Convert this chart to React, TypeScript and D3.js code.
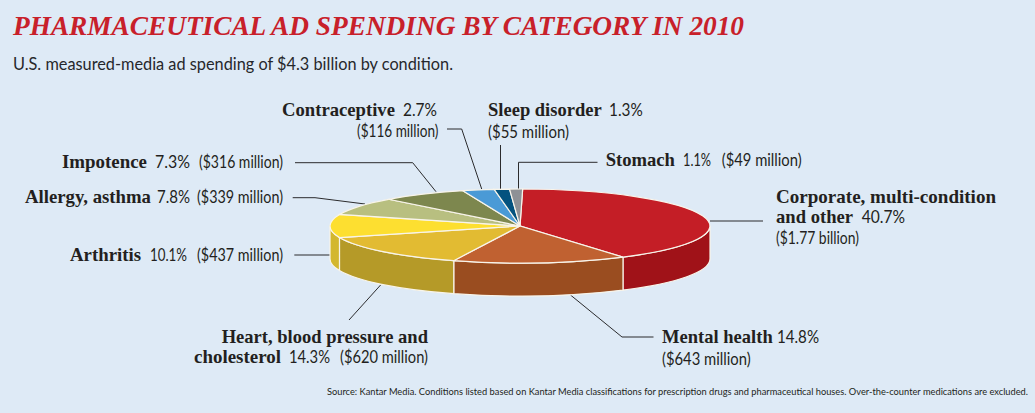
import React from "react";
import * as d3 from "d3";

const categories = ["Corporate, multi-condition and other", "Mental health", "Heart, blood pressure and cholesterol", "Arthritis", "Allergy, asthma", "Impotence", "Contraceptive", "Sleep disorder", "Stomach"];
const shares = [40.7, 14.8, 14.3, 10.1, 7.8, 7.3, 2.7, 1.3, 1.1];
const topColors = ["#c41e26", "#c06131", "#e2bb32", "#fddf30", "#b8bf80", "#7d874e", "#4a9ad6", "#03527f", "#8e9196"];
const sideColors = ["#a01218", "#9a4d20", "#b59a28", "#d3b72e", "#b8bf80", "#7d874e", "#4a9ad6", "#03527f", "#8e9196"];

const title = "PHARMACEUTICAL AD SPENDING BY CATEGORY IN 2010";
const subtitle = "U.S. measured-media ad spending of $4.3 billion by condition.";
const source = "Source: Kantar Media. Conditions listed based on Kantar Media classifications for prescription drugs and pharmaceutical houses. Over-the-counter medications are excluded.";

// x0, x1, baseline, text
type Piece = [number, number, number, string];
const boldPieces: Piece[] = [
  [282, 395, 116, "Contraceptive"],
  [488, 601.7, 116, "Sleep disorder"],
  [605.7, 675, 166, "Stomach"],
  [62, 147, 168, "Impotence"],
  [25, 151, 203, "Allergy, asthma"],
  [70, 141, 261, "Arthritis"],
  [776, 996, 203, "Corporate, multi-condition"],
  [776, 853, 223, "and other"],
  [221.7, 428, 343, "Heart, blood pressure and"],
  [194, 281, 363, "cholesterol"],
  [662, 772.7, 343, "Mental health"],
];
const lightPieces: Piece[] = [
  [403, 437, 116, "2.7%"],
  [357, 438.5, 137, "($116 million)"],
  [609, 642.7, 116, "1.3%"],
  [488, 569, 137.5, "($55 million)"],
  [683, 711, 166, "1.1%"],
  [721.7, 801.7, 166, "($49 million)"],
  [155, 190, 168, "7.3%"],
  [199, 283, 168, "($316 million)"],
  [157, 190, 203, "7.8%"],
  [197, 283, 203, "($339 million)"],
  [150, 187, 261, "10.1%"],
  [197, 283, 261, "($437 million)"],
  [861.7, 905, 223, "40.7%"],
  [776, 859, 244, "($1.77 billion)"],
  [289, 330, 363, "14.3%"],
  [340, 428, 363, "($620 million)"],
  [777, 819, 343, "14.8%"],
  [662, 750.7, 365, "($643 million)"],
];

const leaders: [number, number][][] = [
  [[710, 221], [763, 221]],
  [[570.5, 295], [622, 337], [653.5, 337]],
  [[380.6, 285], [349, 320]],
  [[294.3, 255], [330, 255]],
  [[292.7, 197.7], [315, 197.7], [365, 204]],
  [[295, 162.7], [412.7, 162.7], [436, 191.7]],
  [[447, 129], [461.7, 129], [481.7, 189]],
  [[500.5, 145], [500.5, 189]],
  [[597.5, 162.3], [518.5, 162.3], [518.5, 189]],
];

const W = 1035, H = 413;
const cx = 520, cy = 226, rx = 190, ry = 37, depth = 33;
const edge = "#f8f4ea";
const ink = "#231f20";

export default function App() {
  const pie = d3.pie<number>().sort(null).startAngle(0.014).endAngle(0.014 + 2 * Math.PI);
  const slices = pie(shares);
  const arc = d3.arc<d3.PieArcDatum<number>>().innerRadius(0).outerRadius(1);
  const px = (a: number) => cx + rx * Math.sin(a);
  const py = (a: number) => cy - ry * Math.cos(a);
  const line = d3.line();

  const walls = slices.map((s, i) => {
    const a0 = Math.max(s.startAngle, Math.PI / 2);
    const a1 = Math.min(s.endAngle, (3 * Math.PI) / 2);
    if (a1 <= a0) return null;
    const d = `M${px(a0)},${py(a0)}A${rx},${ry} 0 0 1 ${px(a1)},${py(a1)}L${px(a1)},${py(a1) + depth}A${rx},${ry} 0 0 0 ${px(a0)},${py(a0) + depth}Z`;
    return <path key={i} d={d} fill={sideColors[i]} stroke={edge} strokeWidth={1.2} />;
  });

  return (
    <svg width={W} height={H} viewBox={`0 0 ${W} ${H}`} style={{ position: "absolute", left: 0, top: 0, display: "block" }}>
      <rect width={W} height={H} fill="#deeaf6" />
      <text x={13} y={35} fontFamily="'Liberation Serif', serif" fontWeight={700} fontStyle="italic" fontSize={27} fill="#c8202a" textLength={731} lengthAdjust="spacingAndGlyphs">{title}</text>
      <text x={13} y={70} fontFamily="Lato, sans-serif" fontSize={18} fill="#26272b" textLength={440} lengthAdjust="spacingAndGlyphs">{subtitle}</text>

      {leaders.map((l, i) => (
        <path key={i} d={line(l) ?? ""} fill="none" stroke="#2b2b2d" strokeWidth={1} />
      ))}

      {walls}
      <g transform={`translate(${cx},${cy}) scale(${rx},${ry})`}>
        {slices.map((s, i) => (
          <path key={categories[i]} d={arc(s) ?? ""} fill={topColors[i]} stroke={edge} strokeWidth={1.2} vectorEffect="non-scaling-stroke" />
        ))}
      </g>

      {boldPieces.map(([x0, x1, y, t]) => (
        <text key={t} x={x0} y={y} fill={ink} fontFamily="'Liberation Serif', serif" fontWeight={700} fontSize={19} textLength={x1 - x0} lengthAdjust="spacingAndGlyphs">{t}</text>
      ))}
      {lightPieces.map(([x0, x1, y, t]) => (
        <text key={t} x={x0} y={y} fill={ink} fontFamily="Lato, sans-serif" fontWeight={400} fontSize={18} textLength={x1 - x0} lengthAdjust="spacingAndGlyphs">{t}</text>
      ))}

      <text x={327} y={395} fontFamily="Lato, sans-serif" fontSize={9.3} fill={ink} textLength={701} lengthAdjust="spacingAndGlyphs">{source}</text>
    </svg>
  );
}
